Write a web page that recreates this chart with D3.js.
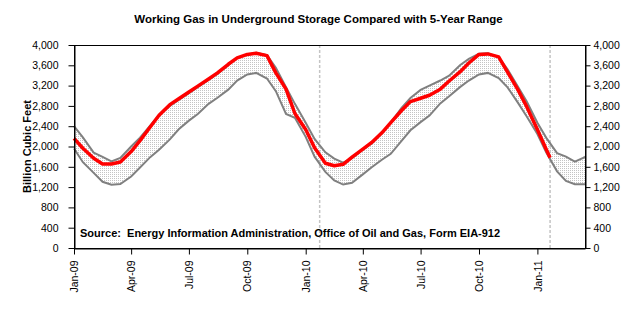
<!DOCTYPE html>
<html>
<head>
<meta charset="utf-8">
<script src="https://cdn.jsdelivr.net/npm/d3@7"></script>
<style>
body { margin: 0; background: #fff; }
text { font-family: Arial, "Liberation Sans", sans-serif; }
</style>
</head>
<body>
<div class="main"></div>
<script>
const WIDTH = 637;
const HEIGHT = 330;
const LEFT = 74, RIGHT = 585, TOP = 45, BOTTOM = 248;

// 5-year range, sampled twice a month (Bcf)
const rangeDates = [
    "2009-01-01","2009-01-15","2009-02-01","2009-02-15","2009-03-01","2009-03-15",
    "2009-04-01","2009-04-15","2009-05-01","2009-05-15","2009-06-01","2009-06-15",
    "2009-07-01","2009-07-15","2009-08-01","2009-08-15","2009-09-01","2009-09-15",
    "2009-10-01","2009-10-15","2009-11-01","2009-11-15","2009-12-01","2009-12-15",
    "2010-01-01","2010-01-15","2010-02-01","2010-02-15","2010-03-01","2010-03-15",
    "2010-04-01","2010-04-15","2010-05-01","2010-05-15","2010-06-01","2010-06-15",
    "2010-07-01","2010-07-15","2010-08-01","2010-08-15","2010-09-01","2010-09-15",
    "2010-10-01","2010-10-15","2010-11-01","2010-11-15","2010-12-01","2010-12-15",
    "2011-01-01","2011-01-15","2011-02-01","2011-02-15","2011-03-01","2011-03-15","2011-03-17"
];
const rangeHigh = [
    2400, 2180, 1880, 1795, 1705, 1775, 2000, 2175, 2410, 2615, 2800, 2920,
    3050, 3170, 3310, 3430, 3600, 3745, 3815, 3845, 3800, 3550, 3170, 2840,
    2470, 2150, 1885, 1760, 1680, 1770, 1935, 2060, 2260, 2470, 2760, 2955,
    3115, 3200, 3300, 3395, 3600, 3725, 3830, 3836, 3760, 3520, 3185, 2890,
    2470, 2170, 1870, 1800, 1700, 1780, 1800
];
const rangeLow = [
    1960, 1690, 1480, 1305, 1245, 1260, 1410, 1585, 1790, 1935, 2140, 2340,
    2510, 2640, 2840, 2960, 3120, 3300, 3420, 3450, 3340, 3090, 2640, 2565,
    2190, 1800, 1500, 1330, 1250, 1285, 1450, 1590, 1740, 1855, 2110, 2320,
    2480, 2610, 2850, 2990, 3170, 3300, 3420, 3450, 3350, 3165, 2870, 2595,
    2245, 1880, 1510, 1320, 1255, 1255, 1255
];

// working gas in storage, lower 48 (Bcf)
const gasDates = rangeDates.slice(0, 50).concat(["2011-01-21"]);
const gasValues = [
    2160, 1965, 1770, 1655, 1655, 1695, 1900, 2115, 2385, 2615, 2825, 2940,
    3075, 3190, 3330, 3450, 3620, 3745, 3815, 3836, 3790, 3450, 3130, 2650,
    2336, 1977, 1670, 1620, 1650, 1790, 1950, 2080, 2270, 2470, 2710, 2885,
    2950, 3010, 3130, 3290, 3470, 3645, 3815, 3825, 3765, 3465, 3125, 2790,
    2335, 1940, 1780
];

// current-week markers
const markerDates = ["2010-01-23", "2011-01-21"];

const yTicks = d3.range(0, 4001, 400);
const xTicks = ["2009-01-01","2009-04-01","2009-07-01","2009-10-01","2010-01-01",
                "2010-04-01","2010-07-01","2010-10-01","2011-01-01"];

const parse = d3.timeParse("%Y-%m-%d");

var svg = d3.select(".main")
    .append("svg")
        .attr("width", WIDTH)
        .attr("height", HEIGHT);

var x = d3.scaleTime()
    .domain([parse("2009-01-01"), parse("2011-03-17")])
    .range([LEFT, RIGHT]);
var y = d3.scaleLinear()
    .domain([0, 4000])
    .range([BOTTOM, TOP]);

// dotted fill for the range band
var pat = svg.append("defs")
    .append("pattern")
        .attr("id", "dots")
        .attr("width", 2)
        .attr("height", 2)
        .attr("patternUnits", "userSpaceOnUse");
pat.append("rect").attr("width", 2).attr("height", 2).attr("fill", "#fff");
pat.append("rect").attr("width", 1).attr("height", 1).attr("fill", "#c4c4c4");

var band = rangeDates.map((d, i) => ({ date: parse(d), high: rangeHigh[i], low: rangeLow[i] }));
var gas = gasDates.map((d, i) => ({ date: parse(d), value: gasValues[i] }));

svg.append("path")
    .datum(band)
    .attr("fill", "url(#dots)")
    .attr("d", d3.area()
        .x(d => x(d.date))
        .y0(d => y(d.low))
        .y1(d => y(d.high)));

svg.selectAll(".marker")
    .data(markerDates)
    .join("line")
    .attr("class", "marker")
    .attr("x1", d => x(parse(d)))
    .attr("x2", d => x(parse(d)))
    .attr("y1", TOP)
    .attr("y2", BOTTOM)
    .attr("stroke", "#c4c4c4")
    .attr("stroke-width", 1.5)
    .attr("stroke-dasharray", "3,2");

["high", "low"].forEach(k => {
    svg.append("path")
        .datum(band)
        .attr("fill", "none")
        .attr("stroke", "#808080")
        .attr("stroke-width", 2)
        .attr("d", d3.line()
            .x(d => x(d.date))
            .y(d => y(d[k])));
});

svg.append("path")
    .datum(gas)
    .attr("fill", "none")
    .attr("stroke", "#ff0000")
    .attr("stroke-width", 3.5)
    .attr("stroke-linejoin", "round")
    .attr("d", d3.line()
        .x(d => x(d.date))
        .y(d => y(d.value)));

// frame
svg.append("rect")
    .attr("x", LEFT + 0.5)
    .attr("y", TOP + 0.5)
    .attr("width", RIGHT - LEFT)
    .attr("height", BOTTOM - TOP)
    .attr("fill", "none")
    .attr("stroke", "#000");

var fmt = d3.format(",");

var leftAxis = svg.append("g")
    .attr("transform", `translate(${LEFT + 0.5},0)`)
    .call(d3.axisLeft(y).tickValues(yTicks).tickFormat(fmt).tickSize(6).tickSizeOuter(0).tickPadding(10));
var rightAxis = svg.append("g")
    .attr("transform", `translate(${RIGHT + 0.5},0)`)
    .call(d3.axisRight(y).tickValues(yTicks).tickFormat(fmt).tickSize(5).tickSizeOuter(0).tickPadding(3));
var bottomAxis = svg.append("g")
    .attr("transform", `translate(0,${BOTTOM + 0.5})`)
    .call(d3.axisBottom(x).tickValues(xTicks.map(parse)).tickFormat(d3.timeFormat("%b-%y")).tickSize(6).tickSizeOuter(0));

bottomAxis.selectAll("text")
    .attr("transform", "rotate(-90)")
    .attr("x", -12)
    .attr("y", 0)
    .attr("dy", "0.35em")
    .style("text-anchor", "end");

[leftAxis, rightAxis, bottomAxis].forEach(g => {
    g.selectAll("text").attr("font-size", 10.5).attr("fill", "#000").attr("font-family", "Arial, 'Liberation Sans', sans-serif");
    g.selectAll("line, path").attr("stroke", "#000");
});

svg.append("text")
    .attr("x", WIDTH / 2)
    .attr("y", 23)
    .attr("text-anchor", "middle")
    .attr("font-size", 11.5)
    .attr("font-weight", "bold")
    .text("Working Gas in Underground Storage Compared with 5-Year Range");

svg.append("text")
    .attr("transform", `translate(31,${(TOP + BOTTOM) / 2}) rotate(-90)`)
    .attr("text-anchor", "middle")
    .attr("font-size", 11)
    .attr("font-weight", "bold")
    .text("Billion Cubic Feet");

svg.append("text")
    .attr("x", 80)
    .attr("y", 237)
    .attr("font-size", 11)
    .attr("font-weight", "bold")
    .attr("xml:space", "preserve")
    .style("white-space", "pre")
    .text("Source:  Energy Information Administration, Office of Oil and Gas, Form EIA-912");
</script>
</body>
</html>
